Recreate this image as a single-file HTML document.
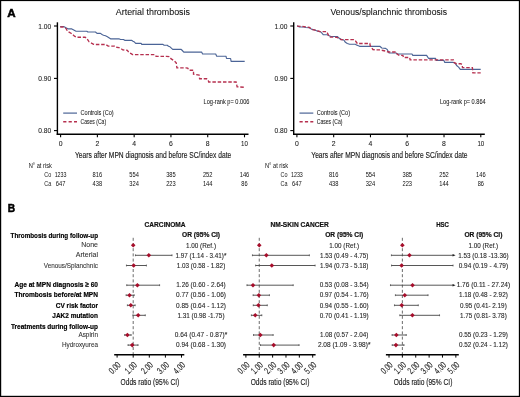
<!DOCTYPE html>
<html><head><meta charset="utf-8"><style>
html,body{margin:0;padding:0;background:#fff;width:520px;height:397px;overflow:hidden}
svg{display:block;font-family:"Liberation Sans", sans-serif;filter:saturate(1.01)}
</style></head><body>
<svg width="520" height="397" viewBox="0 0 520 397">
<rect width="520" height="397" fill="#fff"/>
<rect x="0" y="0" width="520" height="1.1" fill="#000"/>
<rect x="0" y="0" width="1.2" height="397" fill="#000"/>
<rect x="518.85" y="0" width="1.15" height="397" fill="#000"/>
<rect x="0" y="395.8" width="520" height="1.2" fill="#000"/>
<text x="7.3" y="16.7" font-size="11.6" font-weight="bold" text-anchor="start" fill="#000" stroke="#000" stroke-width="0.5">A</text>
<text x="7.7" y="212.3" font-size="10.2" font-weight="bold" text-anchor="start" fill="#000" stroke="#000" stroke-width="0.5">B</text>
<text x="152.9" y="15" font-size="9.6" text-anchor="middle" fill="#111" stroke="#111" stroke-width="0.06" textLength="74.2" lengthAdjust="spacingAndGlyphs">Arterial thrombosis</text>
<line x1="57.4" y1="22.3" x2="57.4" y2="135.0" stroke="#000" stroke-width="1.4"/>
<line x1="56.699999999999996" y1="134.3" x2="248.5" y2="134.3" stroke="#000" stroke-width="1.4"/>
<line x1="54.0" y1="26" x2="57.4" y2="26" stroke="#000" stroke-width="1.1"/>
<text x="51.2" y="28.5" font-size="7.2" text-anchor="end" fill="#222" stroke="#222" stroke-width="0.08" textLength="12.9" lengthAdjust="spacingAndGlyphs">1.00</text>
<line x1="54.0" y1="78.4" x2="57.4" y2="78.4" stroke="#000" stroke-width="1.1"/>
<text x="51.2" y="80.9" font-size="7.2" text-anchor="end" fill="#222" stroke="#222" stroke-width="0.08" textLength="12.9" lengthAdjust="spacingAndGlyphs">0.90</text>
<line x1="54.0" y1="130.6" x2="57.4" y2="130.6" stroke="#000" stroke-width="1.1"/>
<text x="51.2" y="133.1" font-size="7.2" text-anchor="end" fill="#222" stroke="#222" stroke-width="0.08" textLength="12.9" lengthAdjust="spacingAndGlyphs">0.80</text>
<line x1="60.6" y1="134.3" x2="60.6" y2="137.3" stroke="#000" stroke-width="1.1"/>
<text x="60.6" y="146.0" font-size="7.2" text-anchor="middle" fill="#222" stroke="#222" stroke-width="0.08" textLength="3.8" lengthAdjust="spacingAndGlyphs">0</text>
<line x1="97.38" y1="134.3" x2="97.38" y2="137.3" stroke="#000" stroke-width="1.1"/>
<text x="97.38" y="146.0" font-size="7.2" text-anchor="middle" fill="#222" stroke="#222" stroke-width="0.08" textLength="3.8" lengthAdjust="spacingAndGlyphs">2</text>
<line x1="134.16" y1="134.3" x2="134.16" y2="137.3" stroke="#000" stroke-width="1.1"/>
<text x="134.16" y="146.0" font-size="7.2" text-anchor="middle" fill="#222" stroke="#222" stroke-width="0.08" textLength="3.8" lengthAdjust="spacingAndGlyphs">4</text>
<line x1="170.94" y1="134.3" x2="170.94" y2="137.3" stroke="#000" stroke-width="1.1"/>
<text x="170.94" y="146.0" font-size="7.2" text-anchor="middle" fill="#222" stroke="#222" stroke-width="0.08" textLength="3.8" lengthAdjust="spacingAndGlyphs">6</text>
<line x1="207.72" y1="134.3" x2="207.72" y2="137.3" stroke="#000" stroke-width="1.1"/>
<text x="207.72" y="146.0" font-size="7.2" text-anchor="middle" fill="#222" stroke="#222" stroke-width="0.08" textLength="3.8" lengthAdjust="spacingAndGlyphs">8</text>
<line x1="244.5" y1="134.3" x2="244.5" y2="137.3" stroke="#000" stroke-width="1.1"/>
<text x="244.5" y="146.0" font-size="7.2" text-anchor="middle" fill="#222" stroke="#222" stroke-width="0.08" textLength="6.8" lengthAdjust="spacingAndGlyphs">10</text>
<text x="75" y="158.3" font-size="8.4" text-anchor="start" fill="#1a1a1a" stroke="#1a1a1a" stroke-width="0.14" textLength="156.2" lengthAdjust="spacingAndGlyphs">Years after MPN diagnosis and before SC/index date</text>
<line x1="63.2" y1="113.1" x2="77" y2="113.1" stroke="#4b6496" stroke-width="1.2"/>
<line x1="63.2" y1="121.7" x2="77" y2="121.7" stroke="#b5304f" stroke-width="1.5" stroke-dasharray="3.2 2.2"/>
<text x="80.5" y="115.0" font-size="6.4" text-anchor="start" fill="#1a1a1a" stroke="#1a1a1a" stroke-width="0.06" textLength="33.2" lengthAdjust="spacingAndGlyphs">Controls (Co)</text>
<text x="80.5" y="123.7" font-size="6.4" text-anchor="start" fill="#1a1a1a" stroke="#1a1a1a" stroke-width="0.06" textLength="25.6" lengthAdjust="spacingAndGlyphs">Cases (Ca)</text>
<text x="249.4" y="103.9" font-size="6.6" text-anchor="end" fill="#1a1a1a" stroke="#1a1a1a" stroke-width="0.06" textLength="45.8" lengthAdjust="spacingAndGlyphs">Log-rank p= 0.006</text>
<text x="28.7" y="168.3" font-size="6.8" text-anchor="start" fill="#111" textLength="23.2" lengthAdjust="spacingAndGlyphs">N° at risk</text>
<text x="44.2" y="177.2" font-size="6.5" text-anchor="start" fill="#222" textLength="7.0" lengthAdjust="spacingAndGlyphs">Co</text>
<text x="44.2" y="186.2" font-size="6.5" text-anchor="start" fill="#222" textLength="7.0" lengthAdjust="spacingAndGlyphs">Ca</text>
<text x="60.6" y="177.1" font-size="6.3" text-anchor="middle" fill="#111" textLength="11.9" lengthAdjust="spacingAndGlyphs">1233</text>
<text x="60.6" y="186.1" font-size="6.3" text-anchor="middle" fill="#111" textLength="9.6" lengthAdjust="spacingAndGlyphs">647</text>
<text x="97.38" y="177.1" font-size="6.3" text-anchor="middle" fill="#111" textLength="9.6" lengthAdjust="spacingAndGlyphs">816</text>
<text x="97.38" y="186.1" font-size="6.3" text-anchor="middle" fill="#111" textLength="9.6" lengthAdjust="spacingAndGlyphs">438</text>
<text x="134.16" y="177.1" font-size="6.3" text-anchor="middle" fill="#111" textLength="9.6" lengthAdjust="spacingAndGlyphs">554</text>
<text x="134.16" y="186.1" font-size="6.3" text-anchor="middle" fill="#111" textLength="9.6" lengthAdjust="spacingAndGlyphs">324</text>
<text x="170.94" y="177.1" font-size="6.3" text-anchor="middle" fill="#111" textLength="9.6" lengthAdjust="spacingAndGlyphs">385</text>
<text x="170.94" y="186.1" font-size="6.3" text-anchor="middle" fill="#111" textLength="9.6" lengthAdjust="spacingAndGlyphs">223</text>
<text x="207.72" y="177.1" font-size="6.3" text-anchor="middle" fill="#111" textLength="9.6" lengthAdjust="spacingAndGlyphs">252</text>
<text x="207.72" y="186.1" font-size="6.3" text-anchor="middle" fill="#111" textLength="9.6" lengthAdjust="spacingAndGlyphs">144</text>
<text x="244.5" y="177.1" font-size="6.3" text-anchor="middle" fill="#111" textLength="9.6" lengthAdjust="spacingAndGlyphs">146</text>
<text x="244.5" y="186.1" font-size="6.3" text-anchor="middle" fill="#111" textLength="6.3" lengthAdjust="spacingAndGlyphs">86</text>
<path d="M60.2,26.5 H63.7 L66,27.8 L68.3,28.9 H71.8 L73.3,29.7 L76,31.2 H86.8 L87.9,32 H95.5 L97,33.4 H100.5 L102,34.5 L103.5,35.3 L105.5,35.7 L107.4,36.8 L110.5,38.8 H118.9 L120.5,39.5 H123.5 L124.7,40.3 H131.5 L133,41.3 L134.5,42.1 L135.7,43.4 H141.1 L141.8,44.4 H163 L164.2,45.2 H167.3 L168.5,46.2 L170,46.8 L172.7,49.3 H181.2 L182.3,50.5 L183.8,52.1 H201.6 L202.6,54 H215.7 L216.7,56.2 H226 L226.5,58.5 H230.6 L231.1,61.3 H244.7" fill="none" stroke="#4b6496" stroke-width="1.15" stroke-linejoin="round"/>
<path d="M60.2,27 H63.7 L66,28.5 L67.5,31.2 L71.4,33.5 L74.5,36.2 L76.8,37.2 H85.2 L86.8,38.5 L89.1,41.8 L93.7,44.3 L94.2,44.5 H105.8 L108.2,46.1 H114.3 L115.8,47.2 L118.9,47.6 L121.2,48.6 L122.8,49.9 L127.4,50.3 L128.9,52.6 L131.1,53.6 L132.6,54.6 H154.9 L156.1,56.4 H166.2 L169.2,56.6 L171.2,58.9 L174.2,60.8 L176.2,62.8 L176.9,67.8 H185.8 L187.7,68.2 L189,70.2 H193.5 V74.2 L199.1,75.2 L199.6,78.7 H206.6 L208.2,80.2 L208.7,82 H236.1 L236.6,84.2 L237.1,86.8 L244.7,87.3" fill="none" stroke="#b5304f" stroke-width="1.35" stroke-dasharray="3.5 1.8"/>
<text x="388.75" y="15" font-size="9.6" text-anchor="middle" fill="#111" stroke="#111" stroke-width="0.06" textLength="116.5" lengthAdjust="spacingAndGlyphs">Venous/splanchnic thrombosis</text>
<line x1="293.7" y1="22.3" x2="293.7" y2="135.0" stroke="#000" stroke-width="1.4"/>
<line x1="293.0" y1="134.3" x2="484.8" y2="134.3" stroke="#000" stroke-width="1.4"/>
<line x1="290.3" y1="26" x2="293.7" y2="26" stroke="#000" stroke-width="1.1"/>
<text x="287.5" y="28.5" font-size="7.2" text-anchor="end" fill="#222" stroke="#222" stroke-width="0.08" textLength="12.9" lengthAdjust="spacingAndGlyphs">1.00</text>
<line x1="290.3" y1="78.4" x2="293.7" y2="78.4" stroke="#000" stroke-width="1.1"/>
<text x="287.5" y="80.9" font-size="7.2" text-anchor="end" fill="#222" stroke="#222" stroke-width="0.08" textLength="12.9" lengthAdjust="spacingAndGlyphs">0.90</text>
<line x1="290.3" y1="130.6" x2="293.7" y2="130.6" stroke="#000" stroke-width="1.1"/>
<text x="287.5" y="133.1" font-size="7.2" text-anchor="end" fill="#222" stroke="#222" stroke-width="0.08" textLength="12.9" lengthAdjust="spacingAndGlyphs">0.80</text>
<line x1="296.90000000000003" y1="134.3" x2="296.90000000000003" y2="137.3" stroke="#000" stroke-width="1.1"/>
<text x="296.90000000000003" y="146.0" font-size="7.2" text-anchor="middle" fill="#222" stroke="#222" stroke-width="0.08" textLength="3.8" lengthAdjust="spacingAndGlyphs">0</text>
<line x1="333.68000000000006" y1="134.3" x2="333.68000000000006" y2="137.3" stroke="#000" stroke-width="1.1"/>
<text x="333.68000000000006" y="146.0" font-size="7.2" text-anchor="middle" fill="#222" stroke="#222" stroke-width="0.08" textLength="3.8" lengthAdjust="spacingAndGlyphs">2</text>
<line x1="370.46000000000004" y1="134.3" x2="370.46000000000004" y2="137.3" stroke="#000" stroke-width="1.1"/>
<text x="370.46000000000004" y="146.0" font-size="7.2" text-anchor="middle" fill="#222" stroke="#222" stroke-width="0.08" textLength="3.8" lengthAdjust="spacingAndGlyphs">4</text>
<line x1="407.24" y1="134.3" x2="407.24" y2="137.3" stroke="#000" stroke-width="1.1"/>
<text x="407.24" y="146.0" font-size="7.2" text-anchor="middle" fill="#222" stroke="#222" stroke-width="0.08" textLength="3.8" lengthAdjust="spacingAndGlyphs">6</text>
<line x1="444.02000000000004" y1="134.3" x2="444.02000000000004" y2="137.3" stroke="#000" stroke-width="1.1"/>
<text x="444.02000000000004" y="146.0" font-size="7.2" text-anchor="middle" fill="#222" stroke="#222" stroke-width="0.08" textLength="3.8" lengthAdjust="spacingAndGlyphs">8</text>
<line x1="480.80000000000007" y1="134.3" x2="480.80000000000007" y2="137.3" stroke="#000" stroke-width="1.1"/>
<text x="480.80000000000007" y="146.0" font-size="7.2" text-anchor="middle" fill="#222" stroke="#222" stroke-width="0.08" textLength="6.8" lengthAdjust="spacingAndGlyphs">10</text>
<text x="311.3" y="158.3" font-size="8.4" text-anchor="start" fill="#1a1a1a" stroke="#1a1a1a" stroke-width="0.14" textLength="156.2" lengthAdjust="spacingAndGlyphs">Years after MPN diagnosis and before SC/index date</text>
<line x1="299.5" y1="113.1" x2="313.3" y2="113.1" stroke="#4b6496" stroke-width="1.2"/>
<line x1="299.5" y1="121.7" x2="313.3" y2="121.7" stroke="#b5304f" stroke-width="1.5" stroke-dasharray="3.2 2.2"/>
<text x="316.8" y="115.0" font-size="6.4" text-anchor="start" fill="#1a1a1a" stroke="#1a1a1a" stroke-width="0.06" textLength="33.2" lengthAdjust="spacingAndGlyphs">Controls (Co)</text>
<text x="316.8" y="123.7" font-size="6.4" text-anchor="start" fill="#1a1a1a" stroke="#1a1a1a" stroke-width="0.06" textLength="25.6" lengthAdjust="spacingAndGlyphs">Cases (Ca)</text>
<text x="485.70000000000005" y="103.9" font-size="6.6" text-anchor="end" fill="#1a1a1a" stroke="#1a1a1a" stroke-width="0.06" textLength="45.8" lengthAdjust="spacingAndGlyphs">Log-rank p= 0.864</text>
<text x="265.0" y="168.3" font-size="6.8" text-anchor="start" fill="#111" textLength="23.2" lengthAdjust="spacingAndGlyphs">N° at risk</text>
<text x="280.5" y="177.2" font-size="6.5" text-anchor="start" fill="#222" textLength="7.0" lengthAdjust="spacingAndGlyphs">Co</text>
<text x="280.5" y="186.2" font-size="6.5" text-anchor="start" fill="#222" textLength="7.0" lengthAdjust="spacingAndGlyphs">Ca</text>
<text x="296.90000000000003" y="177.1" font-size="6.3" text-anchor="middle" fill="#111" textLength="11.9" lengthAdjust="spacingAndGlyphs">1233</text>
<text x="296.90000000000003" y="186.1" font-size="6.3" text-anchor="middle" fill="#111" textLength="9.6" lengthAdjust="spacingAndGlyphs">647</text>
<text x="333.68000000000006" y="177.1" font-size="6.3" text-anchor="middle" fill="#111" textLength="9.6" lengthAdjust="spacingAndGlyphs">816</text>
<text x="333.68000000000006" y="186.1" font-size="6.3" text-anchor="middle" fill="#111" textLength="9.6" lengthAdjust="spacingAndGlyphs">438</text>
<text x="370.46000000000004" y="177.1" font-size="6.3" text-anchor="middle" fill="#111" textLength="9.6" lengthAdjust="spacingAndGlyphs">554</text>
<text x="370.46000000000004" y="186.1" font-size="6.3" text-anchor="middle" fill="#111" textLength="9.6" lengthAdjust="spacingAndGlyphs">324</text>
<text x="407.24" y="177.1" font-size="6.3" text-anchor="middle" fill="#111" textLength="9.6" lengthAdjust="spacingAndGlyphs">385</text>
<text x="407.24" y="186.1" font-size="6.3" text-anchor="middle" fill="#111" textLength="9.6" lengthAdjust="spacingAndGlyphs">223</text>
<text x="444.02000000000004" y="177.1" font-size="6.3" text-anchor="middle" fill="#111" textLength="9.6" lengthAdjust="spacingAndGlyphs">252</text>
<text x="444.02000000000004" y="186.1" font-size="6.3" text-anchor="middle" fill="#111" textLength="9.6" lengthAdjust="spacingAndGlyphs">144</text>
<text x="480.80000000000007" y="177.1" font-size="6.3" text-anchor="middle" fill="#111" textLength="9.6" lengthAdjust="spacingAndGlyphs">146</text>
<text x="480.80000000000007" y="186.1" font-size="6.3" text-anchor="middle" fill="#111" textLength="6.3" lengthAdjust="spacingAndGlyphs">86</text>
<path d="M297.1,25.8 L299.4,27 H304 L305.5,27.5 L309.4,27.8 L311.3,29.1 L314,29.7 L317.8,31.2 L320.9,32 L323.2,34.7 H327.1 L328.6,35.5 L330.9,36.5 H337.3 L338.5,37.7 L341.5,39.6 L343.8,40 L345.4,42.3 L347.3,43.5 L349.6,44.2 H355.4 L356.5,45 L359.6,46.3 H379.8 L381.8,48 L385.6,48.4 L387.2,49.5 L389.1,53 H396 L397.5,54 H412 L412.8,55.4 H426.6 L428.5,58.3 H435.5 L436.2,60.4 H443.9 L444.8,62.4 H453.4 L455.1,63.2 L456.9,65.8 L458.6,67.1 L460.3,69.3 H480.7" fill="none" stroke="#4b6496" stroke-width="1.15" stroke-linejoin="round"/>
<path d="M297.1,26.2 L304,26.6 L309.4,27.5 L312.5,29.7 L315.2,30.1 L320.2,31.6 H326.7 L327.8,33.9 L329.4,37.1 H334.6 L337.7,37.7 L340.8,39.6 H353.8 L355.4,40.8 L357.3,43.5 H369.8 L370.2,45.7 L372.9,49.5 L376,49.9 H380.2 L385.6,51.1 L388.3,52 H396 L396.8,53.8 L399.1,55.3 H402.9 L403.5,57.5 H409.7 L410.1,59.8 H453.4 L453.8,62.4 L456.4,63.7 H460.8 L462.1,64.5 L462.5,67.6 H472.4 L472.9,72.8 H480.7" fill="none" stroke="#b5304f" stroke-width="1.35" stroke-dasharray="3.5 1.8"/>
<text x="98" y="237.7" font-size="7.8" font-weight="bold" text-anchor="end" fill="#000" stroke="#000" stroke-width="0.2" textLength="87.4" lengthAdjust="spacingAndGlyphs">Thrombosis during follow-up</text>
<text x="98" y="287.1" font-size="7.8" font-weight="bold" text-anchor="end" fill="#000" stroke="#000" stroke-width="0.2" textLength="83.6" lengthAdjust="spacingAndGlyphs">Age at MPN diagnosis ≥ 60</text>
<text x="98" y="297.3" font-size="7.8" font-weight="bold" text-anchor="end" fill="#000" stroke="#000" stroke-width="0.2" textLength="83.6" lengthAdjust="spacingAndGlyphs">Thrombosis before/at MPN</text>
<text x="98" y="307.5" font-size="7.8" font-weight="bold" text-anchor="end" fill="#000" stroke="#000" stroke-width="0.2" textLength="42.2" lengthAdjust="spacingAndGlyphs">CV risk factor</text>
<text x="98" y="317.6" font-size="7.8" font-weight="bold" text-anchor="end" fill="#000" stroke="#000" stroke-width="0.2" textLength="45.7" lengthAdjust="spacingAndGlyphs">JAK2 mutation</text>
<text x="98" y="329.2" font-size="7.8" font-weight="bold" text-anchor="end" fill="#000" stroke="#000" stroke-width="0.2" textLength="87" lengthAdjust="spacingAndGlyphs">Treatments during follow-up</text>
<text x="98" y="247.3" font-size="7.0" text-anchor="end" fill="#333" stroke="#333" stroke-width="0.08">None</text>
<text x="98" y="257.1" font-size="7.0" text-anchor="end" fill="#333" stroke="#333" stroke-width="0.08">Arterial</text>
<text x="98" y="267.6" font-size="7.0" text-anchor="end" fill="#333" stroke="#333" stroke-width="0.08" textLength="54.2" lengthAdjust="spacingAndGlyphs">Venous/Splanchnic</text>
<text x="98" y="336.9" font-size="7.0" text-anchor="end" fill="#333" stroke="#333" stroke-width="0.08" textLength="19.6" lengthAdjust="spacingAndGlyphs">Aspirin</text>
<text x="98" y="347.2" font-size="7.0" text-anchor="end" fill="#333" stroke="#333" stroke-width="0.08" textLength="36" lengthAdjust="spacingAndGlyphs">Hydroxyurea</text>
<text x="165.1" y="227.1" font-size="7.0" font-weight="bold" text-anchor="middle" fill="#111" stroke="#111" stroke-width="0.2" textLength="41" lengthAdjust="spacingAndGlyphs">CARCINOMA</text>
<text x="201.0" y="237.2" font-size="6.8" font-weight="bold" text-anchor="middle" fill="#111" stroke="#111" stroke-width="0.2" textLength="38" lengthAdjust="spacingAndGlyphs">OR (95% CI)</text>
<line x1="133.2" y1="237.8" x2="133.2" y2="354.5" stroke="#5a5a5a" stroke-width="0.9" stroke-dasharray="3 2.2"/>
<line x1="114.2" y1="354.8" x2="184.3" y2="354.8" stroke="#000" stroke-width="1.6"/>
<line x1="117.1" y1="354.8" x2="117.1" y2="357.6" stroke="#000" stroke-width="1.0"/>
<text transform="translate(121.39999999999999,365.6) rotate(-45)" font-size="9.4" text-anchor="end" fill="#222" stroke="#222" stroke-width="0.1" textLength="12.6" lengthAdjust="spacingAndGlyphs">0.00</text>
<line x1="133.2" y1="354.8" x2="133.2" y2="357.6" stroke="#000" stroke-width="1.0"/>
<text transform="translate(137.5,365.6) rotate(-45)" font-size="9.4" text-anchor="end" fill="#222" stroke="#222" stroke-width="0.1" textLength="12.6" lengthAdjust="spacingAndGlyphs">1.00</text>
<line x1="149.3" y1="354.8" x2="149.3" y2="357.6" stroke="#000" stroke-width="1.0"/>
<text transform="translate(153.60000000000002,365.6) rotate(-45)" font-size="9.4" text-anchor="end" fill="#222" stroke="#222" stroke-width="0.1" textLength="12.6" lengthAdjust="spacingAndGlyphs">2.00</text>
<line x1="165.4" y1="354.8" x2="165.4" y2="357.6" stroke="#000" stroke-width="1.0"/>
<text transform="translate(169.70000000000002,365.6) rotate(-45)" font-size="9.4" text-anchor="end" fill="#222" stroke="#222" stroke-width="0.1" textLength="12.6" lengthAdjust="spacingAndGlyphs">3.00</text>
<line x1="181.5" y1="354.8" x2="181.5" y2="357.6" stroke="#000" stroke-width="1.0"/>
<text transform="translate(185.8,365.6) rotate(-45)" font-size="9.4" text-anchor="end" fill="#222" stroke="#222" stroke-width="0.1" textLength="12.6" lengthAdjust="spacingAndGlyphs">4.00</text>
<text x="149.95" y="385.2" font-size="8.4" text-anchor="middle" fill="#1a1a1a" stroke="#1a1a1a" stroke-width="0.14" textLength="58.8" lengthAdjust="spacingAndGlyphs">Odds ratio (95% CI)</text>
<path d="M133.2,242.89999999999998 L135.5,245.2 L133.2,247.5 L130.89999999999998,245.2 Z" fill="#a50e2b"/>
<text x="201.0" y="247.6" font-size="6.8" text-anchor="middle" fill="#262626" stroke="#262626" stroke-width="0.1" textLength="30" lengthAdjust="spacingAndGlyphs">1.00 (Ref.)</text>
<line x1="135.45" y1="255.3" x2="172.0" y2="255.3" stroke="#444" stroke-width="0.9"/>
<line x1="172.0" y1="254.4" x2="172.0" y2="256.2" stroke="#444" stroke-width="0.8"/>
<line x1="135.45" y1="254.4" x2="135.45" y2="256.2" stroke="#444" stroke-width="0.8"/>
<path d="M148.82,253.0 L151.12,255.3 L148.82,257.6 L146.51999999999998,255.3 Z" fill="#a50e2b"/>
<text x="201.0" y="257.6" font-size="6.8" text-anchor="middle" fill="#262626" stroke="#262626" stroke-width="0.1" textLength="50.8" lengthAdjust="spacingAndGlyphs">1.97 (1.14 - 3.41)*</text>
<line x1="126.44" y1="265.5" x2="146.4" y2="265.5" stroke="#444" stroke-width="0.9"/>
<line x1="146.4" y1="264.6" x2="146.4" y2="266.4" stroke="#444" stroke-width="0.8"/>
<line x1="126.44" y1="264.6" x2="126.44" y2="266.4" stroke="#444" stroke-width="0.8"/>
<path d="M133.68,263.2 L135.98000000000002,265.5 L133.68,267.8 L131.38,265.5 Z" fill="#a50e2b"/>
<text x="201.0" y="267.7" font-size="6.8" text-anchor="middle" fill="#262626" stroke="#262626" stroke-width="0.1" textLength="48.5" lengthAdjust="spacingAndGlyphs">1.03 (0.58 - 1.82)</text>
<line x1="126.76" y1="285.2" x2="159.6" y2="285.2" stroke="#444" stroke-width="0.9"/>
<line x1="159.6" y1="284.3" x2="159.6" y2="286.09999999999997" stroke="#444" stroke-width="0.8"/>
<line x1="126.76" y1="284.3" x2="126.76" y2="286.09999999999997" stroke="#444" stroke-width="0.8"/>
<path d="M137.39,282.9 L139.69,285.2 L137.39,287.5 L135.08999999999997,285.2 Z" fill="#a50e2b"/>
<text x="201.0" y="287.3" font-size="6.8" text-anchor="middle" fill="#262626" stroke="#262626" stroke-width="0.1" textLength="49.5" lengthAdjust="spacingAndGlyphs">1.26 (0.60 - 2.64)</text>
<line x1="126.12" y1="295.2" x2="134.17" y2="295.2" stroke="#444" stroke-width="0.9"/>
<line x1="134.17" y1="294.3" x2="134.17" y2="296.09999999999997" stroke="#444" stroke-width="0.8"/>
<line x1="126.12" y1="294.3" x2="126.12" y2="296.09999999999997" stroke="#444" stroke-width="0.8"/>
<path d="M129.5,292.9 L131.8,295.2 L129.5,297.5 L127.2,295.2 Z" fill="#a50e2b"/>
<text x="201.0" y="297.4" font-size="6.8" text-anchor="middle" fill="#262626" stroke="#262626" stroke-width="0.1" textLength="50" lengthAdjust="spacingAndGlyphs">0.77 (0.56 - 1.06)</text>
<line x1="127.4" y1="305.3" x2="135.13" y2="305.3" stroke="#444" stroke-width="0.9"/>
<line x1="135.13" y1="304.40000000000003" x2="135.13" y2="306.2" stroke="#444" stroke-width="0.8"/>
<line x1="127.4" y1="304.40000000000003" x2="127.4" y2="306.2" stroke="#444" stroke-width="0.8"/>
<path d="M130.78,303.0 L133.08,305.3 L130.78,307.6 L128.48,305.3 Z" fill="#a50e2b"/>
<text x="201.0" y="307.5" font-size="6.8" text-anchor="middle" fill="#262626" stroke="#262626" stroke-width="0.1" textLength="50" lengthAdjust="spacingAndGlyphs">0.85 (0.64 - 1.12)</text>
<line x1="132.88" y1="315.3" x2="145.28" y2="315.3" stroke="#444" stroke-width="0.9"/>
<line x1="145.28" y1="314.40000000000003" x2="145.28" y2="316.2" stroke="#444" stroke-width="0.8"/>
<line x1="132.88" y1="314.40000000000003" x2="132.88" y2="316.2" stroke="#444" stroke-width="0.8"/>
<path d="M138.19,313.0 L140.49,315.3 L138.19,317.6 L135.89,315.3 Z" fill="#a50e2b"/>
<text x="201.0" y="317.6" font-size="6.8" text-anchor="middle" fill="#262626" stroke="#262626" stroke-width="0.1" textLength="47.1" lengthAdjust="spacingAndGlyphs">1.31 (0.98 -1.75)</text>
<line x1="124.67" y1="335.0" x2="131.11" y2="335.0" stroke="#444" stroke-width="0.9"/>
<line x1="131.11" y1="334.1" x2="131.11" y2="335.9" stroke="#444" stroke-width="0.8"/>
<line x1="124.67" y1="334.1" x2="124.67" y2="335.9" stroke="#444" stroke-width="0.8"/>
<path d="M127.4,332.7 L129.70000000000002,335.0 L127.4,337.3 L125.10000000000001,335.0 Z" fill="#a50e2b"/>
<text x="201.0" y="337.0" font-size="6.8" text-anchor="middle" fill="#262626" stroke="#262626" stroke-width="0.1" textLength="52.5" lengthAdjust="spacingAndGlyphs">0.64 (0.47 - 0.87)*</text>
<line x1="128.05" y1="345.1" x2="138.03" y2="345.1" stroke="#444" stroke-width="0.9"/>
<line x1="138.03" y1="344.20000000000005" x2="138.03" y2="346.0" stroke="#444" stroke-width="0.8"/>
<line x1="128.05" y1="344.20000000000005" x2="128.05" y2="346.0" stroke="#444" stroke-width="0.8"/>
<path d="M132.23,342.8 L134.53,345.1 L132.23,347.40000000000003 L129.92999999999998,345.1 Z" fill="#a50e2b"/>
<text x="201.0" y="347.3" font-size="6.8" text-anchor="middle" fill="#262626" stroke="#262626" stroke-width="0.1" textLength="50" lengthAdjust="spacingAndGlyphs">0.94 (0.68 - 1.30)</text>
<text x="299.6" y="227.1" font-size="7.0" font-weight="bold" text-anchor="middle" fill="#111" stroke="#111" stroke-width="0.2" textLength="58.4" lengthAdjust="spacingAndGlyphs">NM-SKIN CANCER</text>
<text x="344.2" y="237.2" font-size="6.8" font-weight="bold" text-anchor="middle" fill="#111" stroke="#111" stroke-width="0.2" textLength="38" lengthAdjust="spacingAndGlyphs">OR (95% CI)</text>
<line x1="259.26" y1="237.8" x2="259.26" y2="354.5" stroke="#5a5a5a" stroke-width="0.9" stroke-dasharray="3 2.2"/>
<line x1="243.1" y1="354.8" x2="315.6" y2="354.8" stroke="#000" stroke-width="1.6"/>
<line x1="245.9" y1="354.8" x2="245.9" y2="357.6" stroke="#000" stroke-width="1.0"/>
<text transform="translate(250.20000000000002,365.6) rotate(-45)" font-size="9.4" text-anchor="end" fill="#222" stroke="#222" stroke-width="0.1" textLength="12.6" lengthAdjust="spacingAndGlyphs">0.00</text>
<line x1="259.26" y1="354.8" x2="259.26" y2="357.6" stroke="#000" stroke-width="1.0"/>
<text transform="translate(263.56,365.6) rotate(-45)" font-size="9.4" text-anchor="end" fill="#222" stroke="#222" stroke-width="0.1" textLength="12.6" lengthAdjust="spacingAndGlyphs">1.00</text>
<line x1="272.62" y1="354.8" x2="272.62" y2="357.6" stroke="#000" stroke-width="1.0"/>
<text transform="translate(276.92,365.6) rotate(-45)" font-size="9.4" text-anchor="end" fill="#222" stroke="#222" stroke-width="0.1" textLength="12.6" lengthAdjust="spacingAndGlyphs">2.00</text>
<line x1="285.98" y1="354.8" x2="285.98" y2="357.6" stroke="#000" stroke-width="1.0"/>
<text transform="translate(290.28000000000003,365.6) rotate(-45)" font-size="9.4" text-anchor="end" fill="#222" stroke="#222" stroke-width="0.1" textLength="12.6" lengthAdjust="spacingAndGlyphs">3.00</text>
<line x1="299.34" y1="354.8" x2="299.34" y2="357.6" stroke="#000" stroke-width="1.0"/>
<text transform="translate(303.64,365.6) rotate(-45)" font-size="9.4" text-anchor="end" fill="#222" stroke="#222" stroke-width="0.1" textLength="12.6" lengthAdjust="spacingAndGlyphs">4.00</text>
<line x1="312.7" y1="354.8" x2="312.7" y2="357.6" stroke="#000" stroke-width="1.0"/>
<text transform="translate(317.0,365.6) rotate(-45)" font-size="9.4" text-anchor="end" fill="#222" stroke="#222" stroke-width="0.1" textLength="12.6" lengthAdjust="spacingAndGlyphs">5.00</text>
<text x="280.05" y="385.2" font-size="8.4" text-anchor="middle" fill="#1a1a1a" stroke="#1a1a1a" stroke-width="0.14" textLength="58.8" lengthAdjust="spacingAndGlyphs">Odds ratio (95% CI)</text>
<path d="M259.26,242.89999999999998 L261.56,245.2 L259.26,247.5 L256.96,245.2 Z" fill="#a50e2b"/>
<text x="344.2" y="247.6" font-size="6.8" text-anchor="middle" fill="#262626" stroke="#262626" stroke-width="0.1" textLength="29.7" lengthAdjust="spacingAndGlyphs">1.00 (Ref.)</text>
<line x1="252.45" y1="255.3" x2="309.36" y2="255.3" stroke="#444" stroke-width="0.9"/>
<line x1="309.36" y1="254.4" x2="309.36" y2="256.2" stroke="#444" stroke-width="0.8"/>
<line x1="252.45" y1="254.4" x2="252.45" y2="256.2" stroke="#444" stroke-width="0.8"/>
<path d="M266.34,253.0 L268.64,255.3 L266.34,257.6 L264.03999999999996,255.3 Z" fill="#a50e2b"/>
<text x="344.2" y="257.6" font-size="6.8" text-anchor="middle" fill="#262626" stroke="#262626" stroke-width="0.1" textLength="48.5" lengthAdjust="spacingAndGlyphs">1.53 (0.49 - 4.75)</text>
<line x1="255.65" y1="265.5" x2="315.1" y2="265.5" stroke="#444" stroke-width="0.9"/>
<line x1="315.1" y1="264.6" x2="315.1" y2="266.4" stroke="#444" stroke-width="0.8"/>
<line x1="255.65" y1="264.6" x2="255.65" y2="266.4" stroke="#444" stroke-width="0.8"/>
<path d="M271.82,263.2 L274.12,265.5 L271.82,267.8 L269.52,265.5 Z" fill="#a50e2b"/>
<text x="344.2" y="267.7" font-size="6.8" text-anchor="middle" fill="#262626" stroke="#262626" stroke-width="0.1" textLength="48.5" lengthAdjust="spacingAndGlyphs">1.94 (0.73 - 5.18)</text>
<line x1="246.97" y1="285.2" x2="293.19" y2="285.2" stroke="#444" stroke-width="0.9"/>
<line x1="293.19" y1="284.3" x2="293.19" y2="286.09999999999997" stroke="#444" stroke-width="0.8"/>
<line x1="246.97" y1="284.3" x2="246.97" y2="286.09999999999997" stroke="#444" stroke-width="0.8"/>
<path d="M252.98,282.9 L255.28,285.2 L252.98,287.5 L250.67999999999998,285.2 Z" fill="#a50e2b"/>
<text x="344.2" y="287.3" font-size="6.8" text-anchor="middle" fill="#262626" stroke="#262626" stroke-width="0.1" textLength="48.9" lengthAdjust="spacingAndGlyphs">0.53 (0.08 - 3.54)</text>
<line x1="253.11" y1="295.2" x2="269.41" y2="295.2" stroke="#444" stroke-width="0.9"/>
<line x1="269.41" y1="294.3" x2="269.41" y2="296.09999999999997" stroke="#444" stroke-width="0.8"/>
<line x1="253.11" y1="294.3" x2="253.11" y2="296.09999999999997" stroke="#444" stroke-width="0.8"/>
<path d="M258.86,292.9 L261.16,295.2 L258.86,297.5 L256.56,295.2 Z" fill="#a50e2b"/>
<text x="344.2" y="297.4" font-size="6.8" text-anchor="middle" fill="#262626" stroke="#262626" stroke-width="0.1" textLength="48.9" lengthAdjust="spacingAndGlyphs">0.97 (0.54 - 1.76)</text>
<line x1="253.25" y1="305.3" x2="267.28" y2="305.3" stroke="#444" stroke-width="0.9"/>
<line x1="267.28" y1="304.40000000000003" x2="267.28" y2="306.2" stroke="#444" stroke-width="0.8"/>
<line x1="253.25" y1="304.40000000000003" x2="253.25" y2="306.2" stroke="#444" stroke-width="0.8"/>
<path d="M258.46,303.0 L260.76,305.3 L258.46,307.6 L256.15999999999997,305.3 Z" fill="#a50e2b"/>
<text x="344.2" y="307.5" font-size="6.8" text-anchor="middle" fill="#262626" stroke="#262626" stroke-width="0.1" textLength="48.9" lengthAdjust="spacingAndGlyphs">0.94 (0.55 - 1.60)</text>
<line x1="251.38" y1="315.3" x2="261.8" y2="315.3" stroke="#444" stroke-width="0.9"/>
<line x1="261.8" y1="314.40000000000003" x2="261.8" y2="316.2" stroke="#444" stroke-width="0.8"/>
<line x1="251.38" y1="314.40000000000003" x2="251.38" y2="316.2" stroke="#444" stroke-width="0.8"/>
<path d="M255.25,313.0 L257.55,315.3 L255.25,317.6 L252.95,315.3 Z" fill="#a50e2b"/>
<text x="344.2" y="317.6" font-size="6.8" text-anchor="middle" fill="#262626" stroke="#262626" stroke-width="0.1" textLength="48.9" lengthAdjust="spacingAndGlyphs">0.70 (0.41 - 1.19)</text>
<line x1="253.52" y1="335.0" x2="273.15" y2="335.0" stroke="#444" stroke-width="0.9"/>
<line x1="273.15" y1="334.1" x2="273.15" y2="335.9" stroke="#444" stroke-width="0.8"/>
<line x1="253.52" y1="334.1" x2="253.52" y2="335.9" stroke="#444" stroke-width="0.8"/>
<path d="M260.33,332.7 L262.63,335.0 L260.33,337.3 L258.03,335.0 Z" fill="#a50e2b"/>
<text x="344.2" y="337.0" font-size="6.8" text-anchor="middle" fill="#262626" stroke="#262626" stroke-width="0.1" textLength="48.3" lengthAdjust="spacingAndGlyphs">1.08 (0.57 - 2.04)</text>
<line x1="260.46" y1="345.1" x2="299.07" y2="345.1" stroke="#444" stroke-width="0.9"/>
<line x1="299.07" y1="344.20000000000005" x2="299.07" y2="346.0" stroke="#444" stroke-width="0.8"/>
<line x1="260.46" y1="344.20000000000005" x2="260.46" y2="346.0" stroke="#444" stroke-width="0.8"/>
<path d="M273.69,342.8 L275.99,345.1 L273.69,347.40000000000003 L271.39,345.1 Z" fill="#a50e2b"/>
<text x="344.2" y="347.3" font-size="6.8" text-anchor="middle" fill="#262626" stroke="#262626" stroke-width="0.1" textLength="52.5" lengthAdjust="spacingAndGlyphs">2.08 (1.09 - 3.98)*</text>
<text x="442.5" y="227.1" font-size="7.0" font-weight="bold" text-anchor="middle" fill="#111" stroke="#111" stroke-width="0.2" textLength="12.7" lengthAdjust="spacingAndGlyphs">HSC</text>
<text x="483.4" y="237.2" font-size="6.8" font-weight="bold" text-anchor="middle" fill="#111" stroke="#111" stroke-width="0.2" textLength="38" lengthAdjust="spacingAndGlyphs">OR (95% CI)</text>
<line x1="402.37" y1="237.8" x2="402.37" y2="354.5" stroke="#5a5a5a" stroke-width="0.9" stroke-dasharray="3 2.2"/>
<line x1="385.9" y1="354.8" x2="458.8" y2="354.8" stroke="#000" stroke-width="1.6"/>
<line x1="389.0" y1="354.8" x2="389.0" y2="357.6" stroke="#000" stroke-width="1.0"/>
<text transform="translate(393.3,365.6) rotate(-45)" font-size="9.4" text-anchor="end" fill="#222" stroke="#222" stroke-width="0.1" textLength="12.6" lengthAdjust="spacingAndGlyphs">0.00</text>
<line x1="402.37" y1="354.8" x2="402.37" y2="357.6" stroke="#000" stroke-width="1.0"/>
<text transform="translate(406.67,365.6) rotate(-45)" font-size="9.4" text-anchor="end" fill="#222" stroke="#222" stroke-width="0.1" textLength="12.6" lengthAdjust="spacingAndGlyphs">1.00</text>
<line x1="415.74" y1="354.8" x2="415.74" y2="357.6" stroke="#000" stroke-width="1.0"/>
<text transform="translate(420.04,365.6) rotate(-45)" font-size="9.4" text-anchor="end" fill="#222" stroke="#222" stroke-width="0.1" textLength="12.6" lengthAdjust="spacingAndGlyphs">2.00</text>
<line x1="429.11" y1="354.8" x2="429.11" y2="357.6" stroke="#000" stroke-width="1.0"/>
<text transform="translate(433.41,365.6) rotate(-45)" font-size="9.4" text-anchor="end" fill="#222" stroke="#222" stroke-width="0.1" textLength="12.6" lengthAdjust="spacingAndGlyphs">3.00</text>
<line x1="442.48" y1="354.8" x2="442.48" y2="357.6" stroke="#000" stroke-width="1.0"/>
<text transform="translate(446.78000000000003,365.6) rotate(-45)" font-size="9.4" text-anchor="end" fill="#222" stroke="#222" stroke-width="0.1" textLength="12.6" lengthAdjust="spacingAndGlyphs">4.00</text>
<line x1="455.85" y1="354.8" x2="455.85" y2="357.6" stroke="#000" stroke-width="1.0"/>
<text transform="translate(460.15000000000003,365.6) rotate(-45)" font-size="9.4" text-anchor="end" fill="#222" stroke="#222" stroke-width="0.1" textLength="12.6" lengthAdjust="spacingAndGlyphs">5.00</text>
<text x="423.05" y="385.2" font-size="8.4" text-anchor="middle" fill="#1a1a1a" stroke="#1a1a1a" stroke-width="0.14" textLength="58.8" lengthAdjust="spacingAndGlyphs">Odds ratio (95% CI)</text>
<path d="M402.37,242.89999999999998 L404.67,245.2 L402.37,247.5 L400.07,245.2 Z" fill="#a50e2b"/>
<text x="483.4" y="247.6" font-size="6.8" text-anchor="middle" fill="#262626" stroke="#262626" stroke-width="0.1" textLength="29.6" lengthAdjust="spacingAndGlyphs">1.00 (Ref.)</text>
<line x1="391.41" y1="255.3" x2="453.5815" y2="255.3" stroke="#444" stroke-width="0.9"/>
<path d="M455.5815,255.3 L452.5815,254.0 L452.5815,256.6 Z" fill="#222"/>
<line x1="391.41" y1="254.4" x2="391.41" y2="256.2" stroke="#444" stroke-width="0.8"/>
<path d="M409.46,253.0 L411.76,255.3 L409.46,257.6 L407.15999999999997,255.3 Z" fill="#a50e2b"/>
<text x="483.4" y="257.6" font-size="6.8" text-anchor="middle" fill="#262626" stroke="#262626" stroke-width="0.1" textLength="50.3" lengthAdjust="spacingAndGlyphs">1.53 (0.18 -13.36)</text>
<line x1="391.54" y1="265.5" x2="453.04" y2="265.5" stroke="#444" stroke-width="0.9"/>
<line x1="453.04" y1="264.6" x2="453.04" y2="266.4" stroke="#444" stroke-width="0.8"/>
<line x1="391.54" y1="264.6" x2="391.54" y2="266.4" stroke="#444" stroke-width="0.8"/>
<path d="M401.57,263.2 L403.87,265.5 L401.57,267.8 L399.27,265.5 Z" fill="#a50e2b"/>
<text x="483.4" y="267.7" font-size="6.8" text-anchor="middle" fill="#262626" stroke="#262626" stroke-width="0.1" textLength="49.4" lengthAdjust="spacingAndGlyphs">0.94 (0.19 - 4.79)</text>
<line x1="390.47" y1="285.2" x2="453.5815" y2="285.2" stroke="#444" stroke-width="0.9"/>
<path d="M455.5815,285.2 L452.5815,283.9 L452.5815,286.5 Z" fill="#222"/>
<line x1="390.47" y1="284.3" x2="390.47" y2="286.09999999999997" stroke="#444" stroke-width="0.8"/>
<path d="M412.53,282.9 L414.83,285.2 L412.53,287.5 L410.22999999999996,285.2 Z" fill="#a50e2b"/>
<text x="483.4" y="287.3" font-size="6.8" text-anchor="middle" fill="#262626" stroke="#262626" stroke-width="0.1" textLength="53.5" lengthAdjust="spacingAndGlyphs">1.76 (0.11 - 27.24)</text>
<line x1="395.42" y1="295.2" x2="428.04" y2="295.2" stroke="#444" stroke-width="0.9"/>
<line x1="428.04" y1="294.3" x2="428.04" y2="296.09999999999997" stroke="#444" stroke-width="0.8"/>
<line x1="395.42" y1="294.3" x2="395.42" y2="296.09999999999997" stroke="#444" stroke-width="0.8"/>
<path d="M404.78,292.9 L407.08,295.2 L404.78,297.5 L402.47999999999996,295.2 Z" fill="#a50e2b"/>
<text x="483.4" y="297.4" font-size="6.8" text-anchor="middle" fill="#262626" stroke="#262626" stroke-width="0.1" textLength="48.9" lengthAdjust="spacingAndGlyphs">1.18 (0.48 - 2.92)</text>
<line x1="394.48" y1="305.3" x2="418.28" y2="305.3" stroke="#444" stroke-width="0.9"/>
<line x1="418.28" y1="304.40000000000003" x2="418.28" y2="306.2" stroke="#444" stroke-width="0.8"/>
<line x1="394.48" y1="304.40000000000003" x2="394.48" y2="306.2" stroke="#444" stroke-width="0.8"/>
<path d="M401.7,303.0 L404.0,305.3 L401.7,307.6 L399.4,305.3 Z" fill="#a50e2b"/>
<text x="483.4" y="307.5" font-size="6.8" text-anchor="middle" fill="#262626" stroke="#262626" stroke-width="0.1" textLength="46.7" lengthAdjust="spacingAndGlyphs">0.95 (0.41- 2.19)</text>
<line x1="399.83" y1="315.3" x2="439.54" y2="315.3" stroke="#444" stroke-width="0.9"/>
<line x1="439.54" y1="314.40000000000003" x2="439.54" y2="316.2" stroke="#444" stroke-width="0.8"/>
<line x1="399.83" y1="314.40000000000003" x2="399.83" y2="316.2" stroke="#444" stroke-width="0.8"/>
<path d="M412.4,313.0 L414.7,315.3 L412.4,317.6 L410.09999999999997,315.3 Z" fill="#a50e2b"/>
<text x="483.4" y="317.6" font-size="6.8" text-anchor="middle" fill="#262626" stroke="#262626" stroke-width="0.1" textLength="46.7" lengthAdjust="spacingAndGlyphs">1.75 (0.81- 3.78)</text>
<line x1="392.08" y1="335.0" x2="406.25" y2="335.0" stroke="#444" stroke-width="0.9"/>
<line x1="406.25" y1="334.1" x2="406.25" y2="335.9" stroke="#444" stroke-width="0.8"/>
<line x1="392.08" y1="334.1" x2="392.08" y2="335.9" stroke="#444" stroke-width="0.8"/>
<path d="M396.35,332.7 L398.65000000000003,335.0 L396.35,337.3 L394.05,335.0 Z" fill="#a50e2b"/>
<text x="483.4" y="337.0" font-size="6.8" text-anchor="middle" fill="#262626" stroke="#262626" stroke-width="0.1" textLength="48.9" lengthAdjust="spacingAndGlyphs">0.55 (0.23 - 1.29)</text>
<line x1="392.21" y1="345.1" x2="403.97" y2="345.1" stroke="#444" stroke-width="0.9"/>
<line x1="403.97" y1="344.20000000000005" x2="403.97" y2="346.0" stroke="#444" stroke-width="0.8"/>
<line x1="392.21" y1="344.20000000000005" x2="392.21" y2="346.0" stroke="#444" stroke-width="0.8"/>
<path d="M395.95,342.8 L398.25,345.1 L395.95,347.40000000000003 L393.65,345.1 Z" fill="#a50e2b"/>
<text x="483.4" y="347.3" font-size="6.8" text-anchor="middle" fill="#262626" stroke="#262626" stroke-width="0.1" textLength="48.9" lengthAdjust="spacingAndGlyphs">0.52 (0.24 - 1.12)</text>
</svg></body></html>
